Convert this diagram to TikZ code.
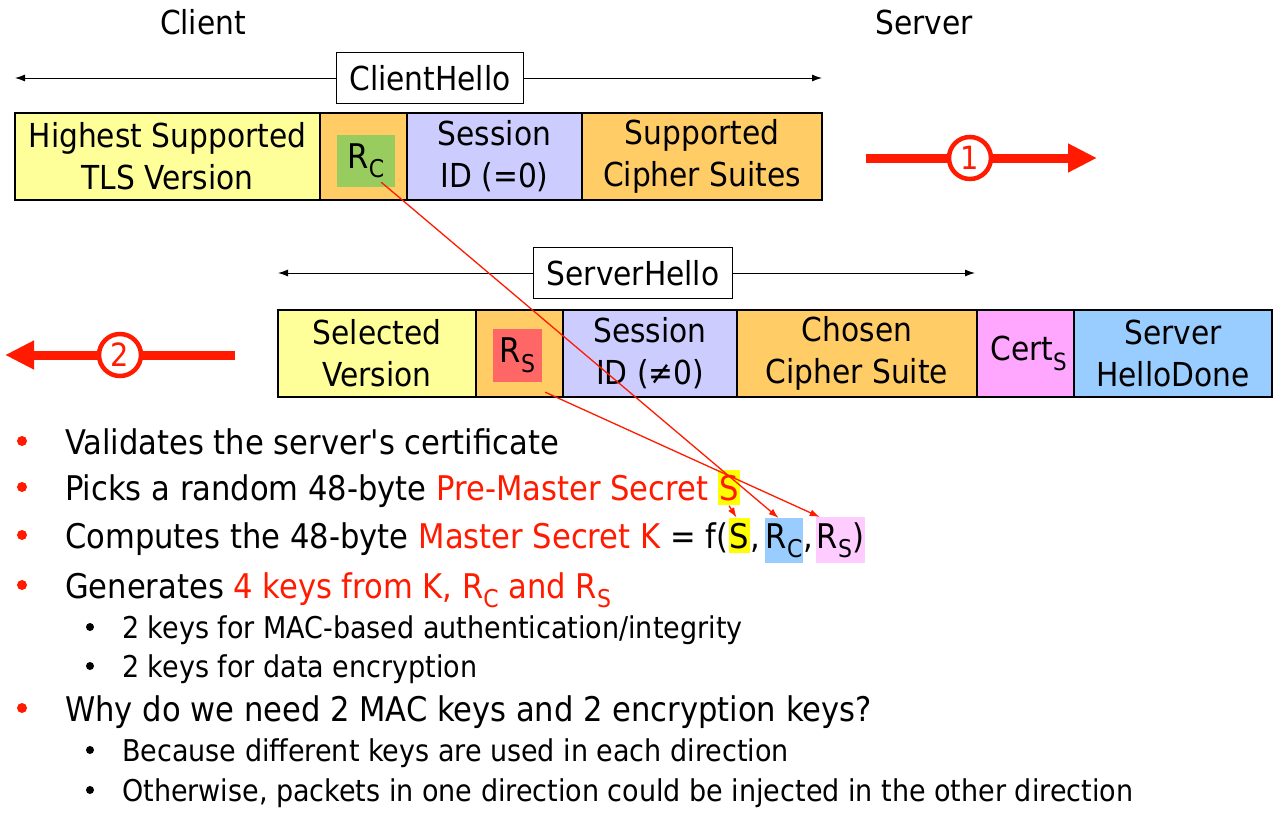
\documentclass[tikz,border=0pt]{standalone}
\usepackage{fontspec}
\setmainfont{DejaVu Sans Condensed}
\usetikzlibrary{arrows.meta,positioning,calc,backgrounds}
\definecolor{cellyellow}{HTML}{FFFF99}
\definecolor{cellorange}{HTML}{FFCC66}
\definecolor{celllav}{HTML}{CCCCFF}
\definecolor{cellgreen}{HTML}{99CC5E}
\definecolor{cellred}{HTML}{FF6666}
\definecolor{cellpink}{HTML}{FFA6FF}
\definecolor{cellblue}{HTML}{99CCFF}
\definecolor{hlpink}{HTML}{FFCCFF}
\definecolor{hlyellow}{HTML}{FFFF00}
\definecolor{pptred}{HTML}{FF1A00}
\newcommand{\lowsub}[1]{\raisebox{-0.28em}{\scalebox{0.72}{#1}}}
\newcommand{\gap}{\ \null}
\tikzset{
    field/.style={draw, line width=1.2pt, minimum height=87pt, inner sep=0pt, outer sep=0pt, align=center, font=\fontsize{33}{42}\selectfont},
    randbox/.style={minimum width=58pt, minimum height=52pt, inner sep=0pt, font=\fontsize{34}{36}\selectfont},
    msg/.style={draw, line width=1.2pt, fill=white, minimum height=51pt, inner xsep=13pt, font=\fontsize{33}{36}\selectfont},
    span/.style={{Latex[length=10pt, width=7pt]}-{Latex[length=10pt, width=7pt]}, line width=1pt},
    flow/.style={-{Triangle[length=29pt, width=27pt]}, line width=9pt, pptred},
    stepmark/.style={circle, draw=pptred, line width=4.5pt, fill=white, minimum size=42pt, inner sep=0pt, text=pptred, font=\fontsize{32}{36}\selectfont},
    link/.style={-{Latex[length=10pt, width=7pt]}, pptred, line width=1.3pt},
    item/.style={anchor=base west, inner sep=0pt, font=\fontsize{34}{38}\selectfont},
    subitem/.style={anchor=base west, inner sep=0pt, font=\fontsize{30}{34}\selectfont},
    hl/.style={item, inner xsep=1pt, inner ysep=5pt},
    dot/.style={circle, fill=pptred, minimum size=10pt, inner sep=0pt},
    subdot/.style={circle, fill=black, minimum size=8pt, inner sep=0pt}
}

\begin{document}
\begin{tikzpicture}[x=1pt, y=-1pt]
    \useasboundingbox (0,0) rectangle (1276,816);

    \node[font=\fontsize{33}{36}\selectfont] (client) at (203,22) {Client};
    \node[font=\fontsize{33}{36}\selectfont] (server) at (924,22) {Server};

    % ClientHello
    \node[field, fill=cellyellow, minimum width=305pt, anchor=north west] (hv) at (15,113) {Highest Supported\\TLS Version};
    \node[field, fill=cellorange, minimum width=87pt, right=0pt of hv] (rc) {};
    \node[field, fill=celllav, minimum width=175pt, right=0pt of rc] (sid) {Session\\ID (=0)};
    \node[field, fill=cellorange, minimum width=240pt, right=0pt of sid] (cs) {Supported\\Cipher Suites};
    \node[randbox, fill=cellgreen] (rcv) at (366,161) {R\lowsub{C}};
    \node[msg] (ch) at (430,78) {ClientHello};
    \begin{scope}[on background layer]
        \draw[span] (hv.west |- ch.center) -- (cs.east |- ch.center);
    \end{scope}

    \coordinate (f1s) at (866,158);
    \coordinate (f1e) at (1097,158);
    \draw[flow] (f1s) -- node[stepmark, pos=0.45] (s1) {1} (f1e);

    % ServerHello
    \node[field, fill=cellyellow, minimum width=198pt, anchor=north west] (sv) at (278,310) {Selected\\Version};
    \node[field, fill=cellorange, minimum width=87pt, right=0pt of sv] (rs) {};
    \node[field, fill=celllav, minimum width=174pt, right=0pt of rs] (sid2) {Session\\ID (≠0)};
    \node[field, fill=cellorange, minimum width=240pt, right=0pt of sid2] (ccs) {Chosen\\Cipher Suite};
    \node[field, fill=cellpink, minimum width=97pt, right=0pt of ccs] (cert) {\hspace*{6pt}Cert\lowsub{S}};
    \node[field, fill=cellblue, minimum width=198pt, right=0pt of cert] (done) {Server\\HelloDone};
    \node[randbox, fill=cellred, minimum width=49pt, minimum height=53pt] (rsv) at (517.5,355.5) {R\lowsub{S}};
    \node[msg] (sh) at (633,273) {ServerHello};
    \begin{scope}[on background layer]
        \draw[span] (sv.west |- sh.center) -- ([xshift=-2pt]ccs.east |- sh.center);
    \end{scope}

    \coordinate (f2s) at (235,355);
    \coordinate (f2e) at (5,355);
    \draw[flow] (f2s) -- node[stepmark, pos=0.5] (s2) {2} (f2e);

    % bullets
    \node[dot] (b1) at (22,441) {};
    \node[dot] (b2) at (22,487) {};
    \node[dot] (b3) at (22,535) {};
    \node[dot] (b4) at (22,585) {};
    \node[dot] (b5) at (22,708) {};
    \node[subdot] (c1) at (90,627) {};
    \node[subdot] (c2) at (90,666) {};
    \node[subdot] (c3) at (90,750) {};
    \node[subdot] (c4) at (90,790) {};

    \node[item] (l1) at (65,454) {Validates the server\textquotesingle s certificate};

    \node[item] (l2a) at (65,500) {Picks a random 48-byte\gap};
    \node[item, text=pptred] (l2b) at (l2a.base east) {Pre-Master Secret\gap};
    \node[hl, fill=hlyellow, text=pptred] (ps) at (l2b.base east) {S};

    \node[item] (l3a) at (65,548) {Computes the 48-byte\gap};
    \node[item, text=pptred] (l3b) at (l3a.base east) {Master Secret K};
    \node[item] (l3c) at (l3b.base east) {\ = f(};
    \node[hl, fill=hlyellow] (fs) at (l3c.base east) {S};
    \node[item] (l3d) at (fs.base east) {,\hspace*{4pt}\null};
    \node[hl, fill=cellblue] (frc) at (l3d.base east) {R\lowsub{C}};
    \node[item] (l3e) at (frc.base east) {,\hspace*{2pt}\null};
    \node[hl, fill=hlpink] (frs) at (l3e.base east) {R\lowsub{S})};

    \node[item] (l4) at (65,598) {Generates \textcolor{pptred}{4 keys from K, R\lowsub{C} and R\lowsub{S}}};
    \node[subitem] (l4a) at (122,638) {2 keys for MAC-based authentication/integrity};
    \node[subitem] (l4b) at (122,677) {2 keys for data encryption};
    \node[item] (l5) at (65,721) {Why do we need 2 MAC keys and 2 encryption keys?};
    \node[subitem] (l5a) at (122,761) {Because different keys are used in each direction};
    \node[subitem] (l5b) at (122,801) {Otherwise, packets in one direction could be injected in the other direction};

    % links
    \draw[link] ([xshift=-14pt, yshift=5pt]rcv.south east) -- ([xshift=14pt]frc.north west);
    \draw[link] ([xshift=3pt, yshift=-10pt]rsv.south east) -- ([xshift=4pt]frs.north west);
    \draw[link] (ps.south) -- ([xshift=-3pt]fs.north);
\end{tikzpicture}
\end{document}
